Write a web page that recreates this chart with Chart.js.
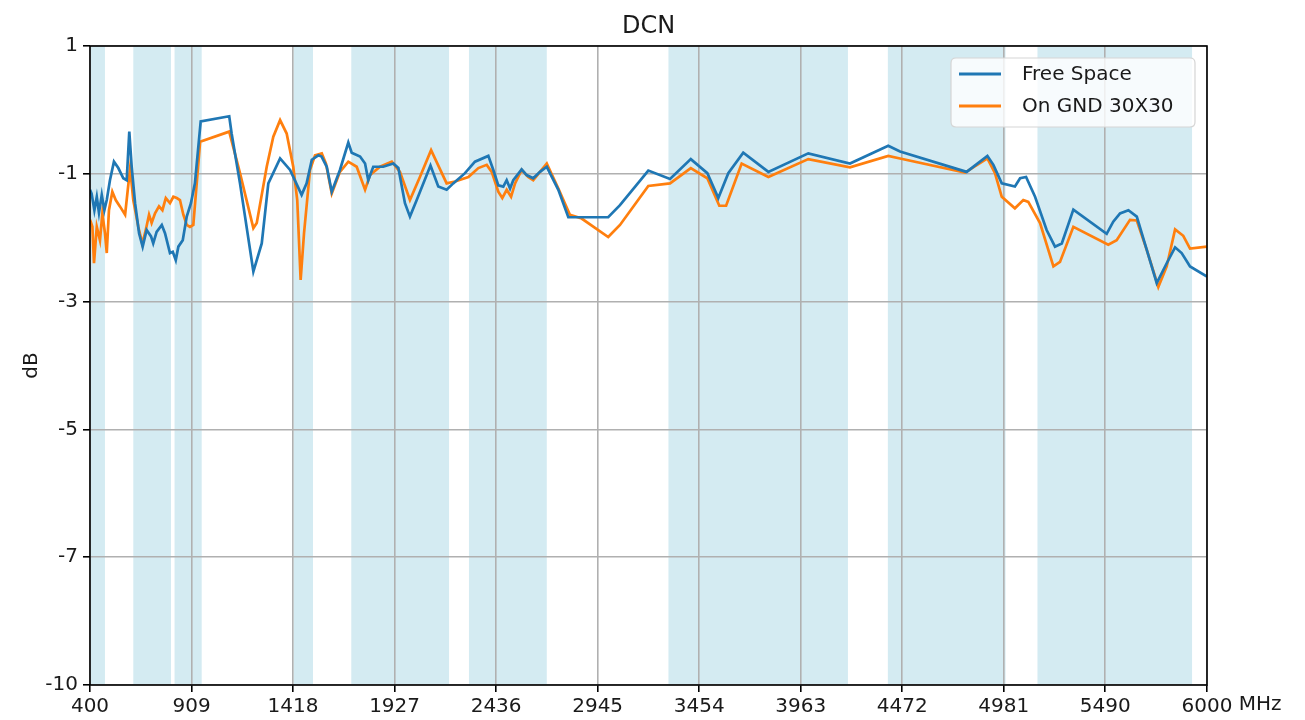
<!DOCTYPE html>
<html>
<head>
<meta charset="utf-8">
<script src="https://cdn.jsdelivr.net/npm/chart.js@4.4.1/dist/chart.umd.min.js"></script>
<style>
  html, body { margin: 0; padding: 0; background: #ffffff; }
  #wrap { width: 1305px; height: 720px; position: relative; }
</style>
</head>
<body>
<div id="wrap"><canvas id="c" width="1305" height="720"></canvas></div>
<script>
const chartTitle = 'DCN';
const yAxisTitle = 'dB';
const xUnit = 'MHz';
const seriesNames = ['Free Space', 'On GND 30X30'];
const seriesColors = ['#1f77b4', '#ff7f0e'];

const xTickValues = [400, 909, 1418, 1927, 2436, 2945, 3454, 3963, 4472, 4981, 5490, 6000];
const yTickValues = [1, -1, -3, -5, -7, -9];
const yTickLabels = ['1', '-1', '-3', '-5', '-7', '-10'];

const bandStart = [400, 617, 824, 1420, 1710, 2300, 3300, 4400, 5150];
const bandEnd   = [475, 806, 960, 1518, 2200, 2690, 4200, 4990, 5925];

const freeFreq = [400,408,422,434,445,459,472,484,500,520,542,567,584,597,609,626,646,664,684,706,717,734,760,776,801,815,830,843,865,885,906,926,955,1098,1110,1152,1219,1261,1294,1353,1403,1461,1486,1512,1545,1561,1587,1612,1653,1695,1712,1754,1779,1795,1820,1870,1921,1946,1979,2004,2038,2107,2146,2188,2221,2280,2330,2397,2422,2447,2472,2489,2506,2522,2564,2589,2622,2656,2690,2748,2798,2998,3057,3199,3308,3412,3495,3550,3600,3675,3801,4001,4210,4402,4461,4795,4899,4929,4971,5037,5063,5093,5138,5196,5238,5272,5330,5497,5530,5564,5606,5648,5698,5748,5798,5840,5873,5915,6000];
const freeDb = [-1.25,-1.31,-1.57,-1.36,-1.61,-1.33,-1.57,-1.41,-1.10,-0.81,-0.91,-1.07,-1.10,-0.34,-0.89,-1.46,-1.93,-2.14,-1.88,-1.98,-2.09,-1.91,-1.80,-1.93,-2.24,-2.22,-2.35,-2.14,-2.04,-1.67,-1.46,-1.15,-0.18,-0.10,-0.37,-1.15,-2.53,-2.09,-1.15,-0.76,-0.94,-1.33,-1.15,-0.78,-0.71,-0.73,-0.89,-1.28,-0.94,-0.51,-0.67,-0.73,-0.84,-1.10,-0.89,-0.89,-0.84,-0.91,-1.46,-1.67,-1.41,-0.87,-1.20,-1.25,-1.15,-0.99,-0.81,-0.72,-0.94,-1.18,-1.20,-1.10,-1.23,-1.10,-0.93,-1.02,-1.07,-0.97,-0.89,-1.25,-1.68,-1.68,-1.49,-0.95,-1.08,-0.77,-0.99,-1.38,-0.99,-0.67,-0.97,-0.68,-0.84,-0.56,-0.65,-0.97,-0.72,-0.86,-1.15,-1.20,-1.07,-1.05,-1.36,-1.88,-2.14,-2.09,-1.56,-1.94,-1.75,-1.62,-1.57,-1.67,-2.19,-2.71,-2.40,-2.15,-2.24,-2.45,-2.61];

const gndFreq = [400,412,420,434,450,462,475,484,495,512,529,550,576,601,617,642,662,676,696,709,726,746,763,780,801,818,835,851,868,885,901,918,952,1098,1152,1219,1236,1286,1319,1353,1386,1419,1439,1456,1473,1503,1528,1562,1583,1612,1653,1695,1737,1779,1804,1854,1913,1954,2004,2054,2110,2188,2230,2297,2347,2389,2414,2447,2467,2489,2511,2531,2564,2597,2622,2656,2690,2748,2806,2865,2998,3057,3199,3308,3412,3495,3555,3589,3667,3801,4001,4210,4402,4461,4787,4899,4937,4971,5037,5079,5104,5163,5230,5263,5330,5505,5547,5614,5648,5698,5756,5798,5840,5881,5915,6000];
const gndDb = [-1.72,-1.83,-2.40,-1.83,-2.04,-1.62,-1.93,-2.24,-1.57,-1.28,-1.41,-1.51,-1.64,-0.91,-1.41,-1.83,-2.09,-1.93,-1.64,-1.77,-1.62,-1.51,-1.57,-1.38,-1.46,-1.36,-1.38,-1.41,-1.64,-1.80,-1.83,-1.80,-0.50,-0.34,-0.99,-1.85,-1.77,-0.89,-0.42,-0.16,-0.37,-0.89,-1.41,-2.66,-1.93,-0.94,-0.71,-0.68,-0.84,-1.31,-0.97,-0.81,-0.89,-1.25,-1.02,-0.89,-0.81,-0.97,-1.41,-1.05,-0.63,-1.15,-1.12,-1.05,-0.91,-0.86,-0.97,-1.28,-1.38,-1.25,-1.36,-1.15,-0.94,-1.05,-1.10,-0.97,-0.84,-1.23,-1.64,-1.70,-1.99,-1.80,-1.19,-1.15,-0.91,-1.07,-1.50,-1.50,-0.84,-1.05,-0.77,-0.90,-0.72,-0.76,-0.98,-0.76,-0.99,-1.36,-1.54,-1.41,-1.44,-1.77,-2.45,-2.38,-1.83,-2.11,-2.04,-1.72,-1.73,-2.19,-2.77,-2.45,-1.87,-1.97,-2.17,-2.14];

const FONT = "'DejaVu Sans', sans-serif";
const TEXT = '#1a1a1a';

function toPoints(xs, ys) { return xs.map((x, i) => ({ x: x, y: ys[i] })); }

const bandsPlugin = {
  id: 'bands',
  beforeDraw(chart) {
    const ctx = chart.ctx;
    ctx.save();
    ctx.fillStyle = '#ffffff';
    ctx.fillRect(0, 0, chart.width, chart.height);
    const xs = chart.scales.x, a = chart.chartArea;
    ctx.fillStyle = 'rgba(173,216,230,0.52)';
    for (let i = 0; i < bandStart.length; i++) {
      const x0 = xs.getPixelForValue(bandStart[i]);
      const x1 = xs.getPixelForValue(bandEnd[i]);
      ctx.fillRect(x0, a.top, x1 - x0, a.bottom - a.top);
    }
    ctx.restore();
  }
};

const framePlugin = {
  id: 'frame',
  afterDatasetsDraw(chart) {
    const ctx = chart.ctx, a = chart.chartArea;
    ctx.save();
    ctx.strokeStyle = '#000000';
    ctx.lineWidth = 1.6;
    ctx.strokeRect(a.left, a.top, a.right - a.left, a.bottom - a.top);
    ctx.restore();
  },
  afterDraw(chart) {
    const ctx = chart.ctx;
    const xs = chart.scales.x;
    const a = chart.chartArea;
    ctx.save();
    // title centred over the plot area
    ctx.font = '24px ' + FONT;
    ctx.fillStyle = TEXT;
    ctx.textAlign = 'center';
    ctx.textBaseline = 'alphabetic';
    ctx.fillText(chartTitle, (a.left + a.right) / 2, 33);

    // unit label after last tick
    ctx.font = '20px ' + FONT;
    ctx.textBaseline = 'top';
    ctx.textAlign = 'left';
    const lastX = xs.getPixelForValue(xTickValues[xTickValues.length - 1]);
    const w = ctx.measureText(String(xTickValues[xTickValues.length - 1])).width;
    const sp = ctx.measureText(' ').width;
    ctx.fillText(xUnit, lastX + w / 2 + sp, xs.top + 7 + 3);

    // legend box
    const bx = 951, by = 58, bw = 244, bh = 69, r = 5;
    ctx.beginPath();
    ctx.moveTo(bx + r, by);
    ctx.lineTo(bx + bw - r, by); ctx.quadraticCurveTo(bx + bw, by, bx + bw, by + r);
    ctx.lineTo(bx + bw, by + bh - r); ctx.quadraticCurveTo(bx + bw, by + bh, bx + bw - r, by + bh);
    ctx.lineTo(bx + r, by + bh); ctx.quadraticCurveTo(bx, by + bh, bx, by + bh - r);
    ctx.lineTo(bx, by + r); ctx.quadraticCurveTo(bx, by, bx + r, by);
    ctx.closePath();
    ctx.fillStyle = 'rgba(255,255,255,0.8)';
    ctx.fill();
    ctx.strokeStyle = '#d5d5d5';
    ctx.lineWidth = 1.2;
    ctx.stroke();
    chart.data.datasets.forEach((ds, i) => {
      const cy = by + 16 + i * 32;
      ctx.strokeStyle = ds.borderColor;
      ctx.lineWidth = 3;
      ctx.beginPath();
      ctx.moveTo(bx + 8, cy);
      ctx.lineTo(bx + 50, cy);
      ctx.stroke();
      ctx.fillStyle = TEXT;
      ctx.textBaseline = 'middle';
      ctx.textAlign = 'left';
      ctx.font = '20px ' + FONT;
      ctx.fillText(ds.label, bx + 71, cy + 1);
    });
    ctx.restore();
  }
};

new Chart(document.getElementById('c'), {
  type: 'line',
  data: {
    datasets: [
      { label: seriesNames[0], data: toPoints(freeFreq, freeDb), borderColor: seriesColors[0], backgroundColor: seriesColors[0], borderWidth: 2.7, pointRadius: 0, tension: 0 },
      { label: seriesNames[1], data: toPoints(gndFreq, gndDb), borderColor: seriesColors[1], backgroundColor: seriesColors[1], borderWidth: 2.7, pointRadius: 0, tension: 0 }
    ]
  },
  options: {
    responsive: false,
    animation: false,
    devicePixelRatio: 1,
    layout: { padding: { top: 46, right: 98, bottom: 0, left: 0 } },
    plugins: {
      legend: { display: false },
      tooltip: { enabled: false },
      title: { display: false }
    },
    scales: {
      x: {
        type: 'linear', min: 400, max: 6000,
        afterBuildTicks(scale) { scale.ticks = xTickValues.map(v => ({ value: v })); },
        afterFit(scale) { scale.height = 35; },
        ticks: { color: TEXT, font: { family: FONT, size: 20 }, padding: 3, maxRotation: 0, autoSkip: false, callback: v => String(v) },
        grid: { color: '#b0b0b0', lineWidth: 1.6, tickLength: 7, tickColor: '#000', tickWidth: 1.6, drawOnChartArea: true },
        border: { display: false }
      },
      y: {
        type: 'linear', min: -9, max: 1,
        afterBuildTicks(scale) { scale.ticks = yTickValues.map(v => ({ value: v })); },
        afterFit(scale) { scale.width = 90; },
        ticks: { color: TEXT, font: { family: FONT, size: 20 }, padding: 5, autoSkip: false,
          callback: v => { const i = yTickValues.indexOf(v); return i >= 0 ? yTickLabels[i] : ''; } },
        grid: { color: '#b0b0b0', lineWidth: 1.6, tickLength: 7, tickColor: '#000', tickWidth: 1.6 },
        border: { display: false },
        title: { display: true, text: yAxisTitle, color: TEXT, font: { family: FONT, size: 20 }, padding: { top: 20, bottom: 0 } }
      }
    }
  },
  plugins: [bandsPlugin, framePlugin]
});
</script>
</body>
</html>
